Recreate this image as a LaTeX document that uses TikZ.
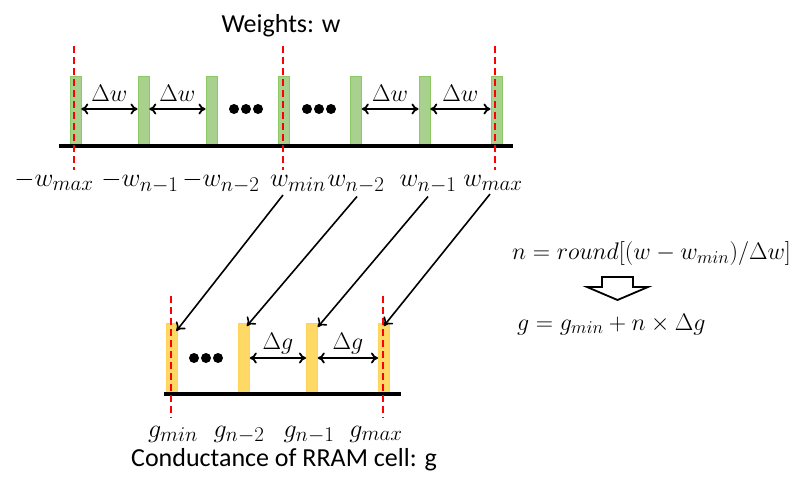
\documentclass[tikz,border=0pt]{standalone}
\usepackage{fix-cm}
\usepackage{fontspec}
\setmainfont{Carlito}
\DeclareMathSizes{26}{26}{21}{16}
\DeclareMathSizes{24}{24}{18}{14}
\usetikzlibrary{arrows.meta,calc}
\begin{document}
\begin{tikzpicture}[x=1pt,y=-1pt,
  gbar/.style={draw={rgb,255:red,140;green,200;blue,100},line width=0.8pt,fill={rgb,255:red,169;green,209;blue,142},minimum width=11pt,minimum height=68pt,inner sep=0pt,anchor=north west},
  obar/.style={draw={rgb,255:red,255;green,210;blue,90},line width=0.8pt,fill={rgb,255:red,255;green,217;blue,102},minimum width=11pt,minimum height=69pt,inner sep=0pt,anchor=north west},
  reddash/.style={red,line width=2pt,dash pattern=on 7pt off 4pt},
  axisline/.style={black,line width=3.5pt},
  dbl/.style={{To[length=7pt,width=11pt]}-{To[length=7pt,width=11pt]},line width=1.8pt},
  diag/.style={-{To[length=8pt,width=12pt]},line width=1.6pt},
  mlabel/.style={font=\fontsize{26}{30}\selectfont,inner sep=0pt,anchor=base},
  elabel/.style={font=\fontsize{24}{28}\selectfont,inner sep=0pt,anchor=base west},
  dlabel/.style={font=\fontsize{24}{28}\selectfont,inner sep=0pt,anchor=base},
  ttl/.style={font=\fontsize{26}{30}\selectfont,inner sep=0pt,anchor=base},
  dotc/.style={fill=black,draw=none,circle,minimum size=10pt,inner sep=0pt}
]
\useasboundingbox (0,0) rectangle (800,478);

% title
\node[ttl] (title) at (281,33) {Weights: w};

% top bars
\node[gbar] (t1) at (69.5,76) {};
\node[gbar] (t2) at (137.5,76) {};
\node[gbar] (t3) at (205.5,76) {};
\node[gbar] (t4) at (278,76) {};
\node[gbar] (t5) at (350,76) {};
\node[gbar] (t6) at (418.5,76) {};
\node[gbar] (t7) at (490.5,76) {};

% axis
\coordinate (ta) at (59,146);
\coordinate (tb) at (513,146);
\draw[axisline] (ta) -- (tb);

% red dashed
\coordinate (r1a) at (74,46); \coordinate (r1b) at (74,170);
\coordinate (r2a) at (283,46); \coordinate (r2b) at (283,170);
\coordinate (r3a) at (494.5,46); \coordinate (r3b) at (494.5,170);
\draw[reddash] (r1a) -- (r1b);
\draw[reddash] (r2a) -- (r2b);
\draw[reddash] (r3a) -- (r3b);

% delta w arrows
\draw[dbl] (t1.east |- 0,109) -- (t2.west |- 0,109) node[midway,dlabel,above=7pt,anchor=base] (dw1) {$\Delta w$};
\draw[dbl] (t2.east |- 0,109) -- (t3.west |- 0,109) node[midway,dlabel,above=7pt,anchor=base] (dw2) {$\Delta w$};
\draw[dbl] (t5.east |- 0,109) -- (t6.west |- 0,109) node[midway,dlabel,above=7pt,anchor=base] (dw3) {$\Delta w$};
\draw[dbl] (t6.east |- 0,109) -- (t7.west |- 0,109) node[midway,dlabel,above=7pt,anchor=base] (dw4) {$\Delta w$};

% dots top
\node[dotc] (d1) at (234,109) {};
\node[dotc] (d2) at (246,109) {};
\node[dotc] (d3) at (258,109) {};
\node[dotc] (d4) at (307,109) {};
\node[dotc] (d5) at (319,109) {};
\node[dotc] (d6) at (331,109) {};

% top labels
\node[mlabel] (l1) at (54,187) {$-w_{max}$};
\node[mlabel] (l2) at (140,187) {$-w_{n-1}$};
\node[mlabel] (l3) at (221,187) {$-w_{n-2}$};
\node[mlabel] (l4) at (298,187) {$w_{min}$};
\node[mlabel] (l5) at (356,187) {$w_{n-2}$};
\node[mlabel] (l6) at (428,187) {$w_{n-1}$};
\node[mlabel] (l7) at (493,187) {$w_{max}$};

% bottom bars
\node[obar] (b1) at (165.5,323) {};
\node[obar] (b2) at (238,323) {};
\node[obar] (b3) at (306,323) {};
\node[obar] (b4) at (378,323) {};

\coordinate (ba) at (164,394);
\coordinate (bb) at (401,394);
\draw[axisline] (ba) -- (bb);

\coordinate (r4a) at (170.5,296); \coordinate (r4b) at (170.5,418);
\coordinate (r5a) at (382.5,296); \coordinate (r5b) at (382.5,418);
\draw[reddash] (r4a) -- (r4b);
\draw[reddash] (r5a) -- (r5b);

% delta g arrows
\draw[dbl] (b2.east |- 0,358) -- (b3.west |- 0,358) node[midway,dlabel,above=9pt,anchor=base] (dg1) {$\Delta g$};
\draw[dbl] (b3.east |- 0,358) -- (b4.west |- 0,358) node[midway,dlabel,above=9pt,anchor=base] (dg2) {$\Delta g$};

\node[dotc] (d7) at (194,358) {};
\node[dotc] (d8) at (206,358) {};
\node[dotc] (d9) at (218,358) {};

% bottom labels
\node[mlabel] (g1) at (173,437) {$g_{min}$};
\node[mlabel] (g2) at (239,437) {$g_{n-2}$};
\node[mlabel] (g3) at (309,437) {$g_{n-1}$};
\node[mlabel] (g4) at (376,437) {$g_{max}$};

\node[ttl] (ctitle) at (284,466) {Conductance of RRAM cell: g};

% diagonal arrows
\draw[diag] ([xshift=-15pt,yshift=-3pt]l4.south) -- ([xshift=-1pt,yshift=-8pt]b1.north east);
\draw[diag] ([xshift=1pt,yshift=-3pt]l5.south) -- ([xshift=-3pt,yshift=-3pt]b2.north east);
\draw[diag] ([xshift=0pt,yshift=-3pt]l6.south) -- ([xshift=0pt,yshift=-4pt]b3.north east);
\draw[diag] ([xshift=-3pt,yshift=-3pt]l7.south) -- ([xshift=-6pt,yshift=-3pt]b4.north east);

% equations
\node[elabel] (eq1) at (512,260) {$n=round[(w-w_{min})/\Delta w]$};
\draw[line width=1.8pt,line join=miter] (602,277) -- (633,277) -- (633,287) -- (648,287) -- (617.5,300) -- (587,287) -- (602,287) -- cycle;
\node[elabel] (eq2) at (517,330) {$g=g_{min}+n\times\Delta g$};
\end{tikzpicture}
\end{document}
